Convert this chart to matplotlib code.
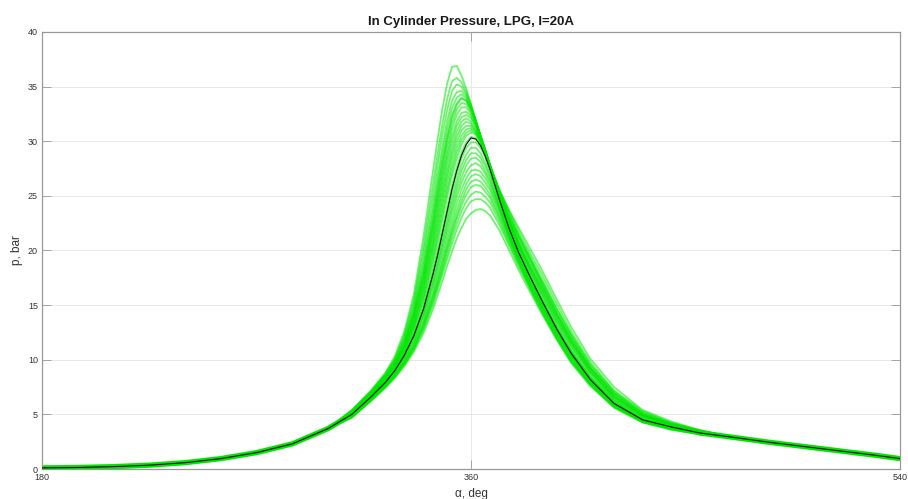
import matplotlib
matplotlib.use("Agg")
import matplotlib.pyplot as plt

# shared compression / expansion parts (all cycles lie on top of each other)
base_left_deg = [180, 195, 210, 225, 240, 255, 270, 285, 300]
base_left_p = [0.1, 0.14, 0.22, 0.35, 0.58, 0.95, 1.5, 2.3, 3.7]
base_right_deg = [470, 485, 500, 515, 530, 540]
base_right_p = [2.9, 2.45, 2.05, 1.65, 1.25, 0.95]

# combustion window where the single cycles spread apart
window_deg = [310, 318, 324, 328, 332, 336, 340, 344, 346, 348, 350, 352, 354,
              356, 358, 360, 362, 364, 366, 368, 372, 376, 380, 385, 390, 396,
              402, 410, 420, 432, 444, 456]

# mean pressure trace (black) inside the window
mean_p = [5.0, 6.6, 7.9, 9.0, 10.4, 12.2, 14.6, 17.8, 19.6, 21.6, 23.6, 25.6, 27.3,
          28.7, 29.7, 30.3, 30.2, 29.6, 28.6, 27.4, 24.6, 22.0, 19.8, 17.5, 15.3,
          12.8, 10.6, 8.2, 6.0, 4.5, 3.85, 3.3]

# single cycles (green), one row per cycle, read at window_deg
cycles_p = [
    [5.4, 7.2, 8.8, 10.3, 12.6, 16.0, 21.2, 27.2, 30.2, 33.0, 35.3, 36.8, 36.9, 36.0, 34.8, 33.4, 31.9, 30.4, 29.0, 27.6, 25.1, 23.0, 21.2, 19.1, 17.1, 14.6, 12.3, 9.6, 7.1, 5.2, 4.2, 3.55],
    [5.4, 7.1, 8.7, 10.1, 12.3, 15.5, 20.3, 26.0, 28.9, 31.6, 33.9, 35.5, 35.8, 35.4, 34.5, 33.3, 31.9, 30.4, 29.0, 27.7, 25.5, 23.7, 22.1, 20.1, 18.1, 15.5, 13.0, 10.1, 7.5, 5.4, 4.35, 3.55],
    [5.3, 7.1, 8.6, 10.0, 12.1, 15.2, 19.7, 25.0, 27.9, 30.6, 32.9, 34.6, 35.2, 35.0, 34.3, 33.2, 31.9, 30.5, 29.1, 27.7, 25.1, 22.9, 20.9, 18.8, 16.7, 14.2, 12.0, 9.3, 6.9, 5.1, 4.1, 3.5],
    [5.3, 7.0, 8.6, 9.9, 11.9, 14.8, 19.0, 24.1, 26.9, 29.5, 31.9, 33.7, 34.5, 34.6, 34.1, 33.1, 31.9, 30.5, 29.1, 27.7, 25.1, 22.8, 20.8, 18.6, 16.6, 14.1, 11.8, 9.2, 6.8, 5.0, 4.1, 3.5],
    [5.3, 7.0, 8.5, 9.8, 11.7, 14.6, 18.6, 23.5, 26.2, 28.8, 31.2, 33.0, 34.0, 34.3, 33.9, 33.0, 31.8, 30.5, 29.2, 27.8, 25.5, 23.6, 21.8, 19.7, 17.7, 15.1, 12.6, 9.8, 7.2, 5.3, 4.25, 3.55],
    [5.3, 7.0, 8.5, 9.7, 11.6, 14.3, 18.1, 22.9, 25.6, 28.2, 30.5, 32.4, 33.5, 34.0, 33.7, 32.9, 31.8, 30.5, 29.2, 27.8, 25.1, 22.7, 20.6, 18.4, 16.4, 13.9, 11.6, 9.0, 6.6, 4.9, 4.1, 3.5],
    [5.25, 6.95, 8.45, 9.7, 11.5, 14.2, 17.9, 22.6, 25.2, 27.8, 30.2, 32.1, 33.3, 33.9, 33.7, 32.9, 31.8, 30.5, 29.2, 27.8, 25.1, 22.7, 20.6, 18.4, 16.3, 13.8, 11.6, 9.0, 6.6, 4.9, 4.05, 3.45],
    [5.2, 6.9, 8.4, 9.6, 11.4, 14.1, 17.6, 22.2, 24.8, 27.3, 29.7, 31.6, 32.9, 33.5, 33.4, 32.7, 31.7, 30.4, 29.1, 27.8, 25.1, 22.7, 20.6, 18.3, 16.2, 13.7, 11.5, 8.9, 6.6, 4.9, 4.0, 3.4],
    [5.2, 6.9, 8.4, 9.6, 11.3, 13.9, 17.4, 21.9, 24.4, 26.8, 29.1, 31.1, 32.4, 33.1, 33.1, 32.5, 31.6, 30.4, 29.1, 27.8, 24.8, 22.0, 19.7, 17.4, 15.3, 12.9, 10.8, 8.4, 6.15, 4.6, 3.9, 3.4],
    [5.2, 6.9, 8.3, 9.5, 11.2, 13.7, 17.1, 21.5, 23.9, 26.3, 28.6, 30.5, 31.8, 32.6, 32.7, 32.3, 31.4, 30.3, 29.1, 27.8, 25.4, 23.4, 21.5, 19.4, 17.3, 14.7, 12.3, 9.5, 7.0, 5.1, 4.15, 3.45],
    [5.2, 6.8, 8.3, 9.5, 11.2, 13.6, 16.9, 21.1, 23.5, 25.8, 28.1, 30.0, 31.4, 32.2, 32.4, 32.1, 31.4, 30.3, 29.1, 27.7, 25.0, 22.5, 20.4, 18.1, 16.0, 13.5, 11.3, 8.8, 6.4, 4.8, 4.0, 3.4],
    [5.1, 6.8, 8.2, 9.4, 11.1, 13.4, 16.6, 20.7, 23.0, 25.3, 27.5, 29.4, 30.9, 31.8, 32.1, 31.8, 31.2, 30.2, 29.0, 27.7, 25.0, 22.5, 20.3, 18.1, 15.9, 13.4, 11.2, 8.7, 6.4, 4.8, 4.0, 3.4],
    [5.1, 6.8, 8.2, 9.4, 11.0, 13.3, 16.4, 20.4, 22.6, 24.8, 27.0, 28.9, 30.4, 31.4, 31.8, 31.6, 31.0, 30.1, 29.0, 27.7, 25.4, 23.3, 21.4, 19.2, 17.0, 14.4, 12.0, 9.3, 6.9, 5.0, 4.15, 3.45],
    [5.1, 6.7, 8.2, 9.3, 10.9, 13.1, 16.1, 20.0, 22.1, 24.3, 26.5, 28.4, 29.9, 31.0, 31.4, 31.4, 30.9, 30.1, 29.0, 27.7, 24.6, 21.8, 19.4, 17.0, 14.9, 12.5, 10.4, 8.1, 5.95, 4.5, 3.8, 3.4],
    [5.1, 6.7, 8.1, 9.3, 10.8, 13.0, 15.8, 19.6, 21.7, 23.8, 25.9, 27.8, 29.4, 30.5, 31.1, 31.2, 30.8, 30.0, 28.9, 27.7, 24.9, 22.4, 20.2, 17.9, 15.7, 13.2, 11.0, 8.5, 6.3, 4.7, 3.9, 3.4],
    [5.1, 6.7, 8.1, 9.2, 10.7, 12.8, 15.6, 19.2, 21.2, 23.3, 25.4, 27.3, 28.9, 30.1, 30.8, 31.0, 30.7, 30.0, 28.9, 27.7, 25.3, 23.1, 21.2, 19.0, 16.8, 14.2, 11.8, 9.2, 6.7, 4.9, 4.05, 3.35],
    [5.0, 6.7, 8.0, 9.1, 10.6, 12.7, 15.3, 18.8, 20.8, 22.8, 24.9, 26.8, 28.4, 29.7, 30.5, 30.8, 30.6, 29.9, 28.8, 27.6, 24.8, 22.3, 20.1, 17.7, 15.5, 13.0, 10.8, 8.4, 6.2, 4.6, 3.9, 3.3],
    [5.0, 6.6, 7.95, 9.05, 10.5, 12.4, 14.9, 18.2, 20.1, 22.0, 24.0, 25.9, 27.6, 29.0, 29.9, 30.4, 30.3, 29.8, 28.8, 27.6, 24.8, 22.2, 20.0, 17.6, 15.4, 12.9, 10.7, 8.3, 6.1, 4.55, 3.85, 3.3],
    [5.0, 6.6, 7.9, 9.0, 10.4, 12.3, 14.7, 17.9, 19.7, 21.6, 23.5, 25.4, 27.0, 28.4, 29.4, 29.9, 29.9, 29.4, 28.5, 27.3, 24.3, 21.5, 19.1, 16.6, 14.4, 12.0, 9.9, 7.8, 5.75, 4.3, 3.7, 3.3],
    [4.9, 6.5, 7.9, 8.9, 10.3, 12.1, 14.4, 17.5, 19.3, 21.1, 23.0, 24.8, 26.4, 27.8, 28.8, 29.4, 29.4, 28.9, 28.0, 27.0, 24.4, 21.9, 19.8, 17.4, 15.2, 12.8, 10.6, 8.2, 6.0, 4.5, 3.8, 3.3],
    [4.9, 6.5, 7.8, 8.9, 10.2, 11.9, 14.2, 17.2, 18.9, 20.7, 22.5, 24.3, 25.9, 27.3, 28.3, 28.9, 28.9, 28.5, 27.7, 26.7, 23.9, 21.2, 18.9, 16.4, 14.2, 11.9, 9.8, 7.7, 5.65, 4.3, 3.7, 3.3],
    [4.9, 6.5, 7.8, 8.8, 10.1, 11.8, 14.0, 16.9, 18.6, 20.3, 22.1, 23.8, 25.4, 26.7, 27.8, 28.4, 28.5, 28.1, 27.3, 26.4, 24.0, 21.6, 19.5, 17.2, 15.1, 12.6, 10.5, 8.1, 6.0, 4.5, 3.8, 3.2],
    [4.9, 6.4, 7.7, 8.7, 10.0, 11.6, 13.8, 16.6, 18.2, 19.9, 21.6, 23.3, 24.9, 26.2, 27.2, 27.8, 28.0, 27.7, 27.0, 26.1, 23.8, 21.5, 19.4, 17.1, 15.0, 12.6, 10.4, 8.1, 6.0, 4.4, 3.7, 3.2],
    [4.8, 6.4, 7.7, 8.7, 9.9, 11.5, 13.5, 16.2, 17.8, 19.4, 21.1, 22.7, 24.3, 25.6, 26.6, 27.3, 27.4, 27.2, 26.6, 25.8, 23.6, 21.3, 19.3, 17.0, 14.9, 12.5, 10.4, 8.0, 5.9, 4.4, 3.7, 3.2],
    [4.8, 6.35, 7.6, 8.6, 9.8, 11.3, 13.3, 15.9, 17.4, 19.0, 20.6, 22.2, 23.7, 25.0, 26.1, 26.8, 27.0, 26.8, 26.2, 25.5, 23.4, 21.2, 19.2, 16.9, 14.8, 12.4, 10.3, 8.0, 5.9, 4.4, 3.7, 3.2],
    [4.8, 6.3, 7.6, 8.6, 9.7, 11.2, 13.2, 15.7, 17.2, 18.7, 20.3, 21.8, 23.2, 24.5, 25.6, 26.3, 26.5, 26.3, 25.8, 25.1, 23.1, 21.0, 19.0, 16.8, 14.7, 12.3, 10.2, 7.9, 5.9, 4.4, 3.7, 3.2],
    [4.8, 6.3, 7.5, 8.5, 9.7, 11.1, 13.0, 15.5, 16.9, 18.4, 20.0, 21.5, 22.9, 24.1, 25.1, 25.8, 26.0, 25.9, 25.4, 24.8, 22.9, 20.8, 18.9, 16.7, 14.6, 12.2, 10.1, 7.9, 5.8, 4.4, 3.7, 3.2],
    [4.75, 6.3, 7.5, 8.45, 9.6, 11.0, 12.9, 15.3, 16.7, 18.1, 19.6, 21.1, 22.4, 23.6, 24.5, 25.1, 25.4, 25.3, 24.9, 24.4, 22.6, 20.6, 18.7, 16.5, 14.5, 12.1, 10.0, 7.8, 5.8, 4.3, 3.65, 3.2],
    [4.7, 6.25, 7.5, 8.4, 9.5, 10.9, 12.7, 15.0, 16.4, 17.8, 19.2, 20.6, 21.9, 23.0, 23.9, 24.5, 24.7, 24.7, 24.4, 23.9, 22.3, 20.4, 18.5, 16.4, 14.3, 12.0, 9.9, 7.7, 5.7, 4.3, 3.6, 3.2],
    [4.7, 6.2, 7.4, 8.3, 9.4, 10.7, 12.4, 14.6, 15.9, 17.2, 18.6, 19.9, 21.1, 22.1, 22.9, 23.4, 23.7, 23.8, 23.6, 23.2, 21.8, 20.0, 18.2, 16.1, 14.1, 11.8, 9.7, 7.6, 5.6, 4.25, 3.6, 3.15],
]

x_ticks = [180, 360, 540]
y_ticks = [0, 5, 10, 15, 20, 25, 30, 35, 40]

GREEN = "#00e600"
SPINE = "#999999"
TEXT = "#333333"


def full_trace(window_values):
    # glue the shared compression / expansion parts to a window trace
    deg = base_left_deg + window_deg + base_right_deg
    p = base_left_p + list(window_values) + base_right_p
    return deg, p


def main():
    plt.rcParams["font.family"] = ["Liberation Sans", "DejaVu Sans"]
    fig = plt.figure(figsize=(9.08, 4.99), dpi=100)
    ax = fig.add_axes([0.0463, 0.0601, 0.9449, 0.8758])

    # thick band where the cycles overlap completely
    ax.plot(base_left_deg + [310], base_left_p + [5.0], color=GREEN, lw=3.8,
            solid_capstyle="round", zorder=2)
    ax.plot([456] + base_right_deg, [3.3] + base_right_p, color=GREEN, lw=3.8,
            solid_capstyle="round", zorder=2)

    for row in cycles_p:
        deg, p = full_trace(row)
        ax.plot(deg, p, color=GREEN, lw=1.3, alpha=0.55, zorder=3)

    deg, p = full_trace(mean_p)
    ax.plot(deg, p, color="#0a0a0a", lw=0.8, zorder=4)

    ax.set_xlim(180, 540)
    ax.set_ylim(0, 40)
    ax.set_xticks(x_ticks)
    ax.set_yticks(y_ticks)
    ax.grid(True, color="#e4e4e4", lw=0.6)
    ax.set_axisbelow(True)
    ax.tick_params(direction="in", length=6.2, width=0.6, color=SPINE,
                   labelsize=6.5, labelcolor=TEXT, top=True, right=True,
                   pad=3)
    for s in ax.spines.values():
        s.set_color(SPINE)
        s.set_linewidth(0.9)

    ax.set_title("In Cylinder Pressure, LPG, I=20A", fontsize=9.5,
                 fontweight="bold", color="#1a1a1a", pad=5)
    ax.set_ylabel("p, bar", fontsize=8.5, color=TEXT, labelpad=3.5)
    ax.set_xlabel("α, deg", fontsize=8.5, color=TEXT, labelpad=4)

    fig.savefig("out.png", dpi=100)


if __name__ == "__main__":
    main()
